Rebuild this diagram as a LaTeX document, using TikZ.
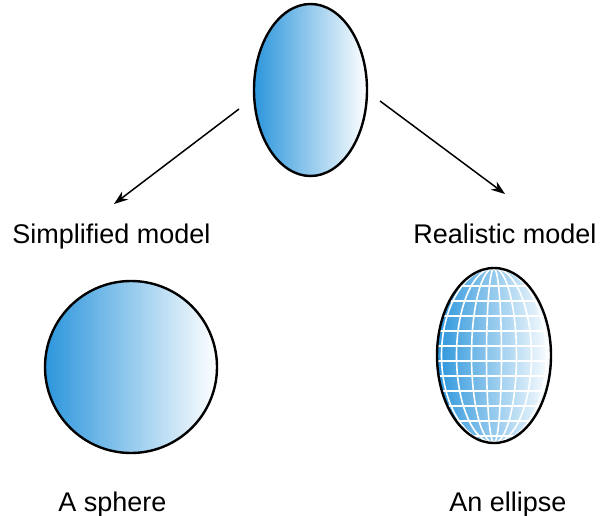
\documentclass[tikz,border=0pt]{standalone}
\usepackage{fontspec}
\setmainfont{Liberation Sans}
\usetikzlibrary{arrows.meta}
\definecolor{ballblue}{RGB}{44,150,220}
\tikzset{
  ball/.style={left color=ballblue, right color=white, draw=black, line width=2.4pt},
  grid line/.style={draw=white, line width=1.6pt},
  link/.style={draw=black, line width=1.5pt, -{Stealth[length=14pt,width=10pt]}},
  label text/.style={font=\fontsize{27}{30}\selectfont, anchor=base, inner sep=0pt}
}
\begin{document}
\begin{tikzpicture}[x=1pt,y=-1pt]
\useasboundingbox (0,0) rectangle (602,516);
% top ellipse
\shade[ball] (310.5,90) ellipse [x radius=56.5, y radius=86];
\coordinate (top) at (310.5,90);
% sphere
\shade[ball] (131,367) circle [radius=86];
% realistic ellipse with grid
\shade[left color=ballblue, right color=white] (494,355.5) ellipse [x radius=57, y radius=87.5];
\begin{scope}
  \clip (494,355.5) ellipse [x radius=57, y radius=87.5];
  \foreach \k in {0,...,10} {
    \draw[grid line] (430,286+15*\k) -- (560,286+15*\k);
  }
  \foreach \r in {7.5,22.5,37.5,52.5} {
    \draw[grid line] (494,355.5) ellipse [x radius=\r, y radius=87.5];
  }
\end{scope}
\draw[black, line width=2.4pt] (494,355.5) ellipse [x radius=57, y radius=87.5];
% arrows
\coordinate (l0) at (239,109);
\coordinate (l1) at (114,204);
\coordinate (r0) at (380,101);
\coordinate (r1) at (505,194);
\draw[link] (l0) -- (l1);
\draw[link] (r0) -- (r1);
% labels
\node[label text] (simp) at (111.5,243.5) {Simplified model};
\node[label text] (real) at (505,243.5) {Realistic model};
\node[label text] (sph) at (112.5,511.5) {A sphere};
\node[label text] (ell) at (508,511.5) {An ellipse};
\end{tikzpicture}
\end{document}
